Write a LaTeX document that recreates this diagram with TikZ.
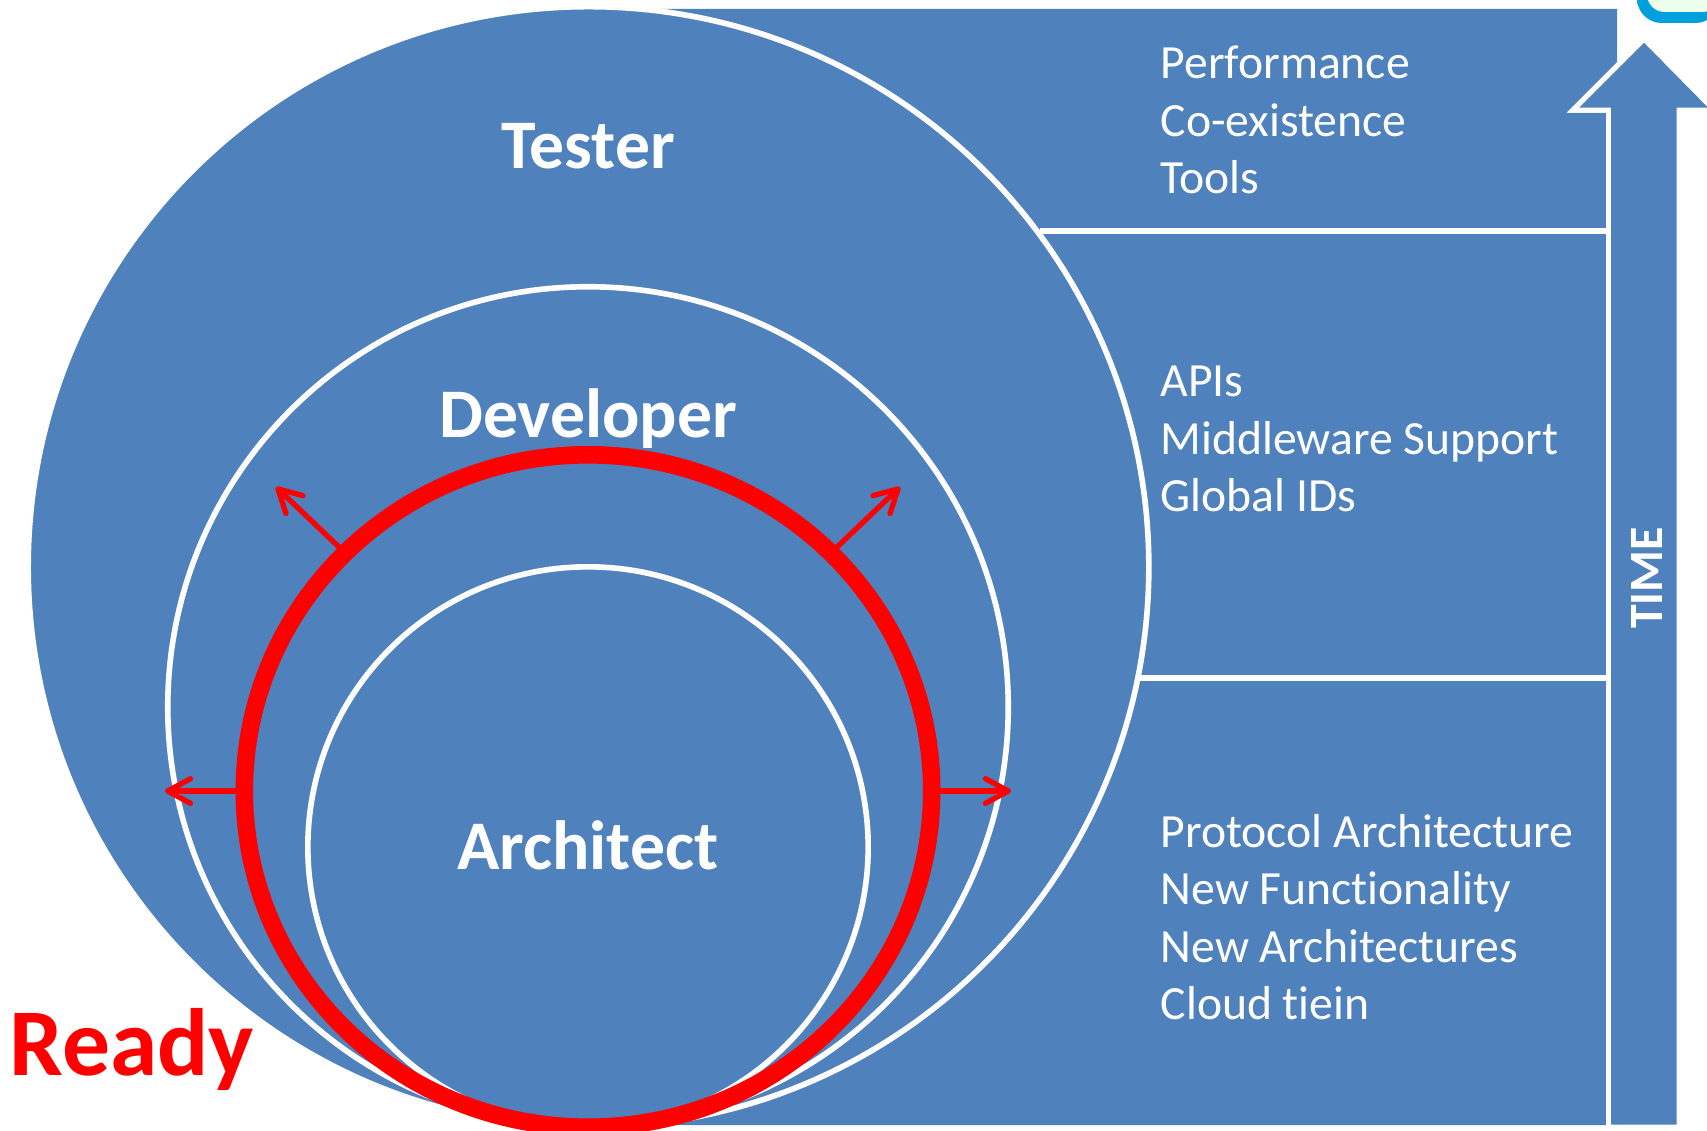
\documentclass[tikz,border=0pt]{standalone}
\usepackage{fontspec}
\setmainfont[Ligatures=NoCommon]{Carlito}
\usetikzlibrary{arrows.meta,shapes.geometric}
\definecolor{roleblue}{HTML}{4F81BD}
\definecolor{logoblue}{HTML}{00A0DC}

\tikzset{
  ring/.style={ellipse,draw=white,line width=1.6pt,fill=roleblue,inner sep=0pt,outer sep=0pt},
  rolelabel/.style={text=white,font=\bfseries\fontsize{19.8}{23}\selectfont},
  itemlist/.style={text=white,align=left,anchor=west,inner sep=0pt,font=\fontsize{13.55}{16.35}\selectfont},
  growline/.style={->,red,line width=1.5pt}
}

\begin{document}
\begin{tikzpicture}[x=0.01cm,y=-0.01cm,>={Straight Barb[length=6.5pt,width=7pt,round]}]

  \useasboundingbox (0,0) rectangle (1707,1131);
  \clip (0,0) rectangle (1707,1131);

  % background and time arrow
  \fill[roleblue] (589,9) -- (1617,9) -- (1617,62) -- (1566,113) -- (1606,113) -- (1606,1125) -- (589,1125) -- cycle;
  \fill[logoblue,rounded corners=7pt] (1637,-20) -- (1637,23) -- (1720,23) -- (1720,-20) -- cycle;
  \fill[white!92!green,rounded corners=5pt] (1647,-20) -- (1647,12) -- (1720,12) -- (1720,-20) -- cycle;
  \draw[white,line width=1.4pt,fill=roleblue] (1644,39) -- (1714,110) -- (1679,110) -- (1679,1127) -- (1608.5,1127) -- (1608.5,110) -- (1573,110) -- cycle;
  \draw[white,line width=1.5pt] (1040,231) -- (1606,231);
  \draw[white,line width=1.5pt] (1137,678) -- (1606,678);

  % circles
  \node[ring,minimum width=11.20cm,minimum height=11.20cm] (tester) at (588.5,567) {};
  \node[ring,minimum width=8.40cm,minimum height=8.40cm] (developer) at (588,707) {};
  \node[ring,minimum width=5.60cm,minimum height=5.60cm] (architect) at (588,847) {};
  \node[ellipse,draw=red,line width=5pt,inner sep=0pt,outer sep=0pt,minimum width=6.87cm,minimum height=6.72cm] (ready) at (588,791) {};

  \node[rolelabel] (testerlabel) at (588,146) {Tester};
  \node[rolelabel] (developerlabel) at (588,419) {Developer};
  \node[rolelabel] (architectlabel) at (588,845) {Architect};
  \node[anchor=base west,inner sep=0pt,text=red,font=\bfseries\fontsize{27.2}{30}\selectfont] (readylabel) at (9,1075) {Ready};

  \coordinate (growleft) at (165,791);
  \coordinate (growright) at (1011,791);
  \coordinate (growupleft) at (276,487);
  \coordinate (growupright) at (900,487);
  \coordinate (startupleft) at (340,548);
  \coordinate (startupright) at (836,548);
  \draw[growline] (ready.west) -- (growleft);
  \draw[growline] (ready.east) -- (growright);
  \draw[growline] (startupleft) -- (growupleft);
  \draw[growline] (startupright) -- (growupright);

  \node[itemlist] (testeritems) at (1160,120) {Performance\\Co-existence\\Tools};
  \node[itemlist] (developeritems) at (1160,439) {APIs\\Middleware Support\\Global IDs};
  \node[itemlist] (architectitems) at (1160,917) {Protocol Architecture\\New Functionality\\New Architectures\\Cloud tiein};

  \node[rotate=90,text=white,font=\bfseries\fontsize{13.6}{15}\selectfont] (timelabel) at (1647,578) {TIME};

\end{tikzpicture}
\end{document}
